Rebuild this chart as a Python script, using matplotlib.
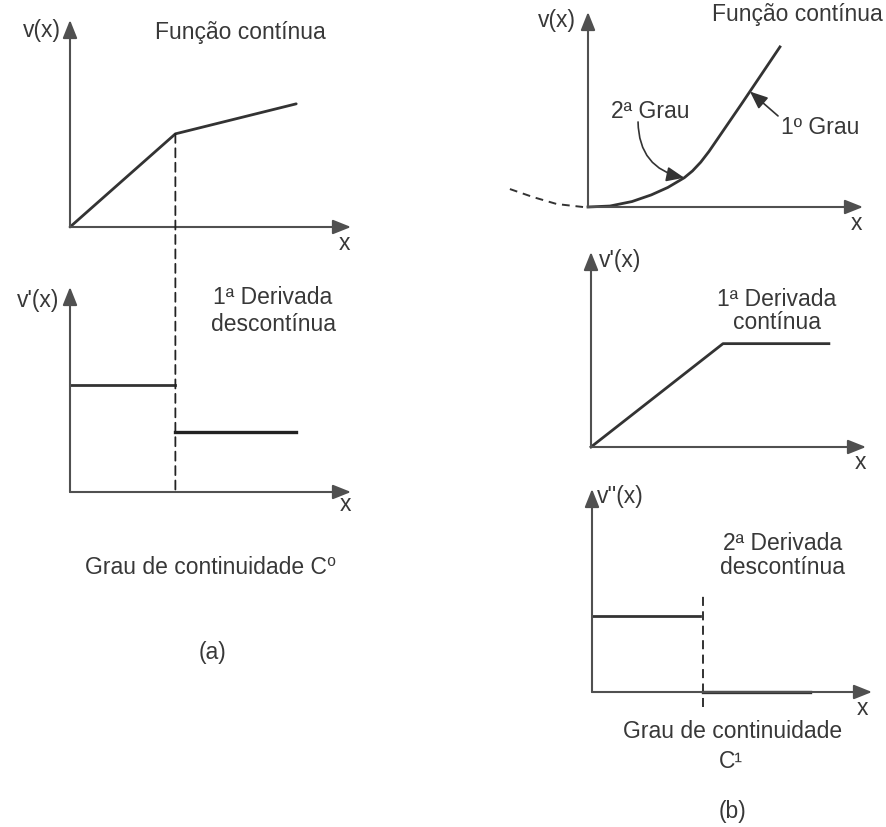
import matplotlib.pyplot as plt
from matplotlib.patches import ConnectionPatch

plt.rcParams['font.family'] = ['Liberation Sans', 'DejaVu Sans']

W, H = 887, 828

# (a) grau de continuidade C0
a_x = [0, 3.75, 8.05]
a_v = [0, 4.5, 5.95]
a_dv_left_x = [0, 3.75]
a_dv_left = [5.2, 5.2]
a_dv_right_x = [3.75, 8.05]
a_dv_right = [2.95, 2.95]

# (b) grau de continuidade C1
b_x = [0, 0.8, 1.6, 2.3, 2.9, 3.5, 3.8, 4.1, 4.4, 5.6, 6.98]
b_v = [0, 0.05, 0.28, 0.62, 1.0, 1.5, 1.85, 2.3, 2.85, 5.32, 8.21]
b_dash_x = [-2.84, -2.0, -1.13, -0.18]
b_dash_v = [0.92, 0.51, 0.15, 0.0]
b_grau1_at = (5.89, 5.92)
b_dv_x = [0, 4.8, 8.65]
b_dv = [0, 5.3, 5.3]
b_ddv_left_x = [0, 3.85]
b_ddv_left = [3.75, 3.75]
b_ddv_right_x = [3.95, 7.8]
b_ddv_right = [0, 0]
b_jump_x = 3.95
b_jump_span = [-0.75, 4.9]

AXC = '#505050'
LC = '#333333'
TC = '#383838'
FS = 16.5


def fx(x, y):
    return x / W, 1 - y / H


def panel(ox, oy, xt, yt):
    # origin (ox, oy) and arrow tips in pixels of the page
    ax = fig.add_axes([ox / W, 1 - oy / H, (xt - ox) / W, (oy - yt) / H])
    ax.set_xlim(0, 10)
    ax.set_ylim(0, 10)
    ax.axis('off')
    ap = dict(arrowstyle='-|>,head_length=0.55,head_width=0.22', color=AXC,
              lw=1.5, mutation_scale=20, shrinkA=0, shrinkB=0)
    ax.annotate('', xy=(1, 0), xytext=(0, 0), xycoords='axes fraction', arrowprops=ap)
    ax.annotate('', xy=(0, 1), xytext=(0, 0), xycoords='axes fraction', arrowprops=ap)
    return ax


def label(x, y, s, **kw):
    kw.setdefault('fontsize', FS)
    fig.text(*fx(x, y), s, ha='center', va='center', color=TC, **kw)


fig = plt.figure(figsize=(W / 100, H / 100), dpi=100)

# ---- (a) ----
ax1 = panel(70, 228, 351, 21)
ax1.plot(a_x, a_v, color=LC, lw=2.0, clip_on=False, solid_capstyle='round')
ax2 = panel(70, 493, 351, 288)
ax2.plot(a_dv_left_x, a_dv_left, color=LC, lw=2.0, clip_on=False)
ax2.plot(a_dv_right_x, a_dv_right, color='#222222', lw=2.4, clip_on=False)
con = ConnectionPatch(xyA=(a_x[1], a_v[1]), coordsA=ax1.transData,
                      xyB=(a_x[1], 0), coordsB=ax2.transData,
                      color='#222222', lw=1.3, linestyle=(0, (5, 3)))
fig.add_artist(con)

label(42, 30, 'v(x)')
label(240, 33, 'Função contínua')
label(344, 244, 'x')
label(38, 300, "v'(x)")
label(273, 298, '1ª Derivada')
label(273, 325, 'descontínua')
label(345, 505, 'x')
label(211, 567, 'Grau de continuidade C⁰')
label(213, 652, '(a)')

# ---- (b) ----
ax3 = panel(588, 208, 863, 13)
ax3.plot(b_x, b_v, color=LC, lw=2.0, clip_on=False, solid_joinstyle='round')
ax3.plot(b_dash_x, b_dash_v, color=LC, lw=1.4, linestyle=(0, (4, 3)), clip_on=False)
ax3.annotate('', xy=(b_x[5], b_v[5]), xytext=(1.82, 4.36),
             arrowprops=dict(arrowstyle='-|>,head_length=0.6,head_width=0.25',
                             color=LC, lw=1.2, mutation_scale=18,
                             shrinkA=0, shrinkB=0, connectionstyle='arc3,rad=0.4'))
ax3.annotate('', xy=b_grau1_at, xytext=(6.91, 4.67),
             arrowprops=dict(arrowstyle='-|>,head_length=0.6,head_width=0.25',
                             color=LC, lw=1.2, mutation_scale=18,
                             shrinkA=0, shrinkB=0))

ax4 = panel(591, 448, 866, 253)
ax4.plot(b_dv_x, b_dv, color=LC, lw=2.0, clip_on=False)

ax5 = panel(592, 693, 872, 490)
ax5.plot(b_ddv_left_x, b_ddv_left, color=LC, lw=2.0, clip_on=False)
ax5.plot(b_ddv_right_x, b_ddv_right, color=LC, lw=2.4, clip_on=False)
ax5.plot([b_jump_x, b_jump_x], b_jump_span, color='#222222', lw=1.3,
         linestyle=(0, (5, 3)), clip_on=False)

label(557, 20, 'v(x)')
label(797, 15, 'Função contínua')
label(650, 112, '2ª Grau')
label(820, 127, '1º Grau')
label(856, 223, 'x')
label(620, 261, "v'(x)")
label(777, 300, '1ª Derivada')
label(777, 323, 'contínua')
label(860, 463, 'x')
label(620, 497, "v''(x)")
label(783, 543, '2ª Derivada')
label(783, 568, 'descontínua')
label(862, 709, 'x')
label(733, 732, 'Grau de continuidade')
label(731, 762, 'C¹')
label(733, 812, '(b)')

fig.savefig('out.png', dpi=100)
